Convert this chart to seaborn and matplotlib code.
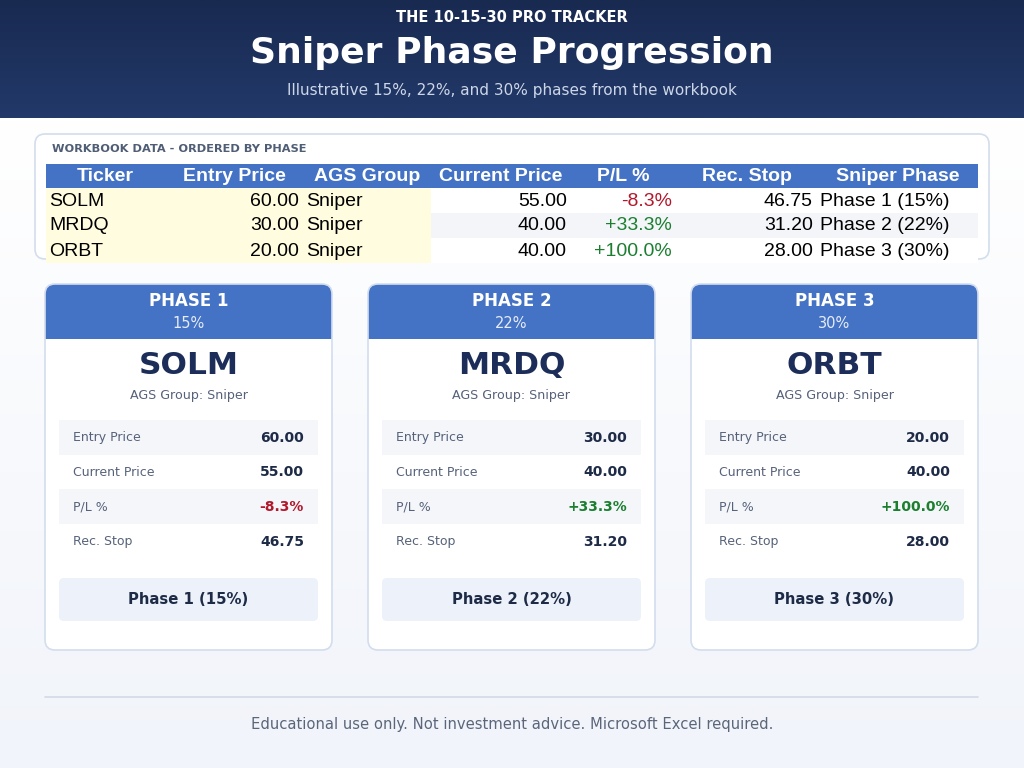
import numpy as np
import pandas as pd
import matplotlib
matplotlib.use("Agg")
import matplotlib.pyplot as plt
import seaborn as sns
from matplotlib.patches import FancyBboxPatch, Rectangle
from matplotlib.colors import LinearSegmentedColormap

# ---------------- data ----------------
tickers = ["SOLM", "MRDQ", "ORBT"]
entry_prices = [60.00, 30.00, 20.00]
ags_groups = ["Sniper", "Sniper", "Sniper"]
current_prices = [55.00, 40.00, 40.00]
pl_pct = [-8.3, 33.3, 100.0]
rec_stops = [46.75, 31.20, 28.00]
phase_nums = [1, 2, 3]
phase_pcts = [15, 22, 30]
table_headers = ["Ticker", "Entry Price", "AGS Group", "Current Price", "P/L %", "Rec. Stop", "Sniper Phase"]

df = pd.DataFrame({
    "Ticker": tickers, "Entry": entry_prices, "Group": ags_groups,
    "Current": current_prices, "PL": pl_pct, "Stop": rec_stops,
    "PhaseNum": phase_nums, "PhasePct": phase_pcts,
})

sns.set_theme(style="white")
plt.rcParams["font.family"] = ["DejaVu Sans"]

NAVY = "#1b2d58"
BLUE = "#4472c4"
RED = "#b2182b"
GREEN = "#1b7f2f"
TXT = "#1e2b47"
GRAY = "#56627a"

fig = plt.figure(figsize=(10.24, 7.68), dpi=100)
ax = fig.add_axes([0, 0, 1, 1])

# background gradient
bg = LinearSegmentedColormap.from_list("bg", ["#ffffff", "#f1f4fa"])
ax.imshow(np.linspace(0, 1, 200)[:, None], extent=[0, 1024, 768, 118], origin="upper",
          cmap=bg, aspect="auto", zorder=0)
# header gradient
hd = LinearSegmentedColormap.from_list("hd", ["#192a51", "#223969"])
ax.imshow(np.linspace(0, 1, 100)[:, None], extent=[0, 1024, 118, 0], origin="upper",
          cmap=hd, aspect="auto", zorder=1)
ax.set_xlim(0, 1024)
ax.set_ylim(768, 0)
ax.axis("off")

ax.text(512, 17, "THE 10-15-30 PRO TRACKER", color="white", fontsize=10.5, fontweight="bold",
        ha="center", va="center", zorder=3)
ax.text(512, 53, "Sniper Phase Progression", color="white", fontsize=26, fontweight="bold",
        ha="center", va="center", zorder=3)
ax.text(512, 90, "Illustrative 15%, 22%, and 30% phases from the workbook", color="#cdd6e8",
        fontsize=11, ha="center", va="center", zorder=3)

# ---------------- table panel ----------------
ax.add_patch(FancyBboxPatch((35, 134), 954, 125, boxstyle="round,pad=0,rounding_size=10",
                            fc="white", ec="#d3ddee", lw=1.2, zorder=2))
ax.text(52, 149, "WORKBOOK DATA - ORDERED BY PHASE", color="#4f5d75", fontsize=8.2,
        fontweight="bold", ha="left", va="center", zorder=3)

col_edges = [46, 165, 303, 431, 571, 676, 817, 978]
head_top, head_h, row_h = 164, 24, 25
TF = ["Liberation Sans", "DejaVu Sans"]
ax.add_patch(Rectangle((col_edges[0], head_top), col_edges[-1] - col_edges[0], head_h,
                       fc=BLUE, ec="none", zorder=3))
for i, h in enumerate(table_headers):
    cx = (col_edges[i] + col_edges[i + 1]) / 2
    ax.text(cx, head_top + head_h / 2 + 0.5, h, color="white", fontsize=14, fontweight="bold",
            family=TF, ha="center", va="center", zorder=4)

for r, row in df.iterrows():
    y0 = head_top + head_h + r * row_h
    yc = y0 + row_h / 2 + 0.5
    base = "#f3f5f9" if r % 2 == 1 else "white"
    ax.add_patch(Rectangle((col_edges[3], y0), col_edges[-1] - col_edges[3], row_h,
                           fc=base, ec="none", zorder=3))
    ax.add_patch(Rectangle((col_edges[0], y0), col_edges[3] - col_edges[0], row_h,
                           fc="#fffcdf", ec="none", zorder=3))
    plc = RED if row.PL < 0 else GREEN
    cells = [
        (row.Ticker, "left", "black"),
        (f"{row.Entry:.2f}", "right", "black"),
        (row.Group, "left", "black"),
        (f"{row.Current:.2f}", "right", "black"),
        (f"{row.PL:+.1f}%", "right", plc),
        (f"{row.Stop:.2f}", "right", "black"),
        (f"Phase {row.PhaseNum} ({row.PhasePct}%)", "left", "black"),
    ]
    for i, (t, al, c) in enumerate(cells):
        x = col_edges[i] + 3 if al == "left" else col_edges[i + 1] - 4
        ax.text(x, yc, t, color=c, fontsize=14, family=TF, ha=al, va="center", zorder=4)

# ---------------- cards ----------------
card_x = [45, 368, 691]
card_w, card_top, card_bot = 287, 284, 650
for k, row in df.iterrows():
    x0 = card_x[k]
    cx = x0 + card_w / 2
    ax.add_patch(FancyBboxPatch((x0, card_top), card_w, card_bot - card_top,
                                boxstyle="round,pad=0,rounding_size=10",
                                fc="white", ec="none", zorder=2))
    ax.add_patch(FancyBboxPatch((x0, card_top), card_w, 55,
                                boxstyle="round,pad=0,rounding_size=10",
                                fc=BLUE, ec="none", zorder=3))
    ax.add_patch(Rectangle((x0, card_top + 30), card_w, 25, fc=BLUE, ec="none", zorder=3))
    ax.add_patch(FancyBboxPatch((x0, card_top), card_w, card_bot - card_top,
                                boxstyle="round,pad=0,rounding_size=10",
                                fc="none", ec="#d3ddee", lw=1.2, zorder=5))
    ax.text(cx, 301, f"PHASE {row.PhaseNum}", color="white", fontsize=12, fontweight="bold",
            ha="center", va="center", zorder=4)
    ax.text(cx, 324, f"{row.PhasePct}%", color="#e6ecf8", fontsize=10.5,
            ha="center", va="center", zorder=4)
    ax.text(cx, 366, row.Ticker, color=NAVY, fontsize=22.5, fontweight="bold",
            ha="center", va="center", zorder=4)
    ax.text(cx, 395, f"AGS Group: {row.Group}", color=GRAY, fontsize=9.1,
            ha="center", va="center", zorder=4)
    items = [
        ("Entry Price", f"{row.Entry:.2f}", TXT),
        ("Current Price", f"{row.Current:.2f}", TXT),
        ("P/L %", f"{row.PL:+.1f}%", RED if row.PL < 0 else GREEN),
        ("Rec. Stop", f"{row.Stop:.2f}", TXT),
    ]
    ry = 420
    for j, (lab, val, vc) in enumerate(items):
        if j % 2 == 0:
            ax.add_patch(Rectangle((x0 + 14, ry), 259, 34.7, fc="#f4f6fa", ec="none", zorder=3))
        ax.text(x0 + 28, ry + 17.5, lab, color=GRAY, fontsize=9, ha="left", va="center", zorder=4)
        ax.text(x0 + 259, ry + 17.5, val, color=vc, fontsize=10, fontweight="bold",
                ha="right", va="center", zorder=4)
        ry += 34.7
    ax.add_patch(FancyBboxPatch((x0 + 14, 578), 259, 43, boxstyle="round,pad=0,rounding_size=5",
                                fc="#edf1f9", ec="none", zorder=3))
    ax.text(cx, 600, f"Phase {row.PhaseNum} ({row.PhasePct}%)", color=TXT, fontsize=10.7,
            fontweight="bold", ha="center", va="center", zorder=4)

# ---------------- footer ----------------
ax.plot([45, 978], [697, 697], color="#d3dae6", lw=1.2, zorder=3)
ax.text(512, 724, "Educational use only. Not investment advice. Microsoft Excel required.",
        color="#5b667a", fontsize=10.6, ha="center", va="center", zorder=3)

fig.savefig("out.png", dpi=100)
